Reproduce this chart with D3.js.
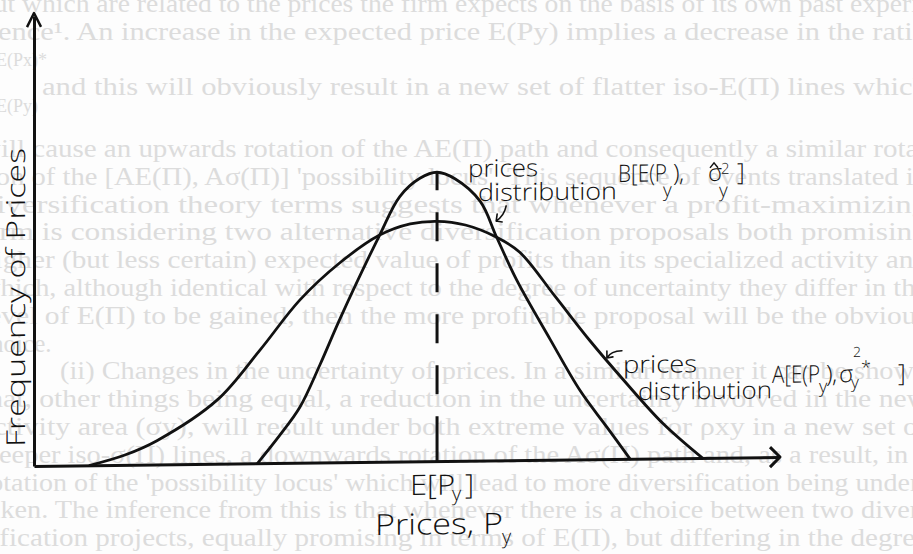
<!DOCTYPE html>
<html>
<head>
<meta charset="utf-8">
<script src="https://cdn.jsdelivr.net/npm/d3@7"></script>
<style>
  body { margin: 0; background: #fff; }
  svg { display: block; }
  .lbl { font-family: "Open Sans", "DejaVu Sans", sans-serif; font-weight: 300; fill: #111; }
  .ghost { font-family: "Liberation Serif", serif; fill: #dcdcdc; font-size: 25px; }
</style>
</head>
<body>
<div id="chart"></div>
<script>
// Distribution B (narrow, tall): prices and frequencies
const bPrice = [3.00, 3.30, 3.57, 3.84, 4.11, 4.64, 4.91, 5.18, 5.41, 5.65, 5.99, 6.21, 6.48, 6.93, 7.33, 7.69, 8.00];
const bFreq  = [0.00, 0.62, 1.24, 2.18, 3.20, 5.04, 5.89, 6.29, 6.42, 6.27, 5.76, 4.96, 4.00, 2.67, 1.53, 0.71, 0.00];

// Distribution A (wide, flatter)
const aPrice = [0.75, 1.22, 1.65, 2.46, 3.03, 3.57, 4.11, 4.64, 5.05, 5.41, 5.79, 6.21, 6.52, 6.99, 7.46, 7.91, 8.44, 8.97];
const aFreq  = [0.00, 0.22, 0.53, 1.42, 2.51, 3.62, 4.44, 5.04, 5.28, 5.33, 5.24, 4.96, 4.62, 3.64, 2.64, 1.76, 0.78, 0.00];

// Expected price E[Py] and the peak it is drawn up to
const meanPrice = 5.41;
const meanPeak = 6.42;

// Show-through text from the scanned page (background)
const ghostLines = [
  [12, "but which are related to the prices the firm expects on the basis of its own past experi-"],
  [40, "ence\u00b9. An increase in the expected price E(Py) implies a decrease in the ratio", -2],
  [95, "and this will obviously result in a new set of flatter iso-E(\u03a0) lines which", 42],
  [157, "will cause an upwards rotation of the AE(\u03a0) path and consequently a similar rota-"],
  [185, "tion of the [AE(\u03a0), A\u03c3(\u03a0)] 'possibility locus'. This sequence of events translated in"],
  [213, "diversification theory terms suggests that whenever a profit-maximizing"],
  [240, "firm is considering two alternative diversification proposals both promising"],
  [268, "higher (but less certain) expected value of profits than its specialized activity and"],
  [296, "which, although identical with respect to the degree of uncertainty they differ in the"],
  [324, "level of E(\u03a0) to be gained, then the more profitable proposal will be the obvious"],
  [352, "choice.", -20, true],
  [379, "(ii) Changes in the uncertainty of prices. In a similar manner it can be shown", 60],
  [407, "that, other things being equal, a reduction in the uncertainty involved in the new"],
  [435, "activity area (\u03c3y), will result under both extreme values for \u03c1xy in a new set of"],
  [463, "steeper iso-\u03c3(\u03a0) lines, a downwards rotation of the A\u03c3(\u03a0) path and, as a result, in a"],
  [491, "rotation of the 'possibility locus' which will lead to more diversification being under-"],
  [518, "taken. The inference from this is that whenever there is a choice between two diver-"],
  [546, "sification projects, equally promising in terms of E(\u03a0), but differing in the degree"]
];

const W = 913, H = 554;

const svg = d3.select("#chart")
  .append("svg")
  .attr("width", W)
  .attr("height", H);

svg.append("rect").attr("width", W).attr("height", H).attr("fill", "#fdfdfd");

// background text
const ghost = svg.append("g");
ghostLines.forEach(([yy, txt, x0, short]) => {
  const left = x0 === undefined ? -20 : x0;
  const t = ghost.append("text")
    .attr("class", "ghost")
    .attr("x", left)
    .attr("y", yy)
    .text(txt);
  if (!short) t.attr("textLength", 928 - left).attr("lengthAdjust", "spacingAndGlyphs");
});
ghost.append("text").attr("class", "ghost").attr("x", -4).attr("y", 66).style("font-size", "18px").text("E(Px)*");
ghost.append("text").attr("class", "ghost").attr("x", -4).attr("y", 112).style("font-size", "18px").text("E(Py)");

// Scales (hand drawing is slightly tilted, hence the skew)
const x = d3.scaleLinear().domain([0, 10]).range([0, 745]);
const y = d3.scaleLinear().domain([0, 10]).range([0, -450]);

const g = svg.append("g").attr("transform", "translate(34,466) skewY(-0.69)");

// Axes without ticks
g.append("g")
  .call(d3.axisBottom(x).tickValues([]).tickSizeOuter(0))
  .call(a => a.select(".domain").attr("stroke", "#111").attr("stroke-width", 3));
g.append("g")
  .call(d3.axisLeft(y).tickValues([]).tickSizeOuter(0))
  .call(a => a.select(".domain").attr("stroke", "#111").attr("stroke-width", 3));

// arrow heads
const xe = x(10) + 1, ye = y(10) - 3;
g.append("path")
  .attr("d", `M${xe - 10},${-10}L${xe},0L${xe - 10},${10}`)
  .attr("fill", "none").attr("stroke", "#111").attr("stroke-width", 3).attr("stroke-linejoin", "round");
g.append("path")
  .attr("d", `M${-7},${ye + 14}L0,${ye}L${7},${ye + 14}`)
  .attr("fill", "none").attr("stroke", "#111").attr("stroke-width", 2.5).attr("stroke-linejoin", "round");

// curves
const line = d3.line()
  .x(d => x(d[0]))
  .y(d => y(d[1]))
  .curve(d3.curveCatmullRom.alpha(0.5));

[[aPrice, aFreq], [bPrice, bFreq]].forEach(([px, fy]) => {
  g.append("path")
    .datum(px.map((p, i) => [p, fy[i]]))
    .attr("d", line)
    .attr("fill", "none")
    .attr("stroke", "#111")
    .attr("stroke-width", 2.8)
    .attr("stroke-linecap", "round");
});

// dashed mean line, drawn from the peak down
g.append("line")
  .attr("x1", x(meanPrice)).attr("x2", x(meanPrice))
  .attr("y1", y(meanPeak)).attr("y2", y(0))
  .attr("stroke", "#111")
  .attr("stroke-width", 3)
  .attr("stroke-dasharray", "18,22,29,22,29,22,29,22,29,22,60");

// text helper: anchor in data units, pieces offset in px
function label(p, f, pieces) {
  const t = g.append("g").attr("transform", `translate(${x(p)},${y(f)})`);
  pieces.forEach(d => {
    const el = t.append("text")
      .attr("class", "lbl")
      .attr("x", d[1]).attr("y", d[2])
      .style("font-size", d[3] + "px")
      .text(d[0]);
    if (d[4]) el.attr("textLength", d[4]).attr("lengthAdjust", "spacingAndGlyphs");
  });
  return t;
}

// B label
label(5.826, 6.306, [["prices", 0, 0, 24, 70]]);
label(5.960, 5.770, [["distribution", 0, 0, 24, 139]]);
const bl = label(7.839, 6.155, [
  ["B[E(P", 0, 0, 24, 49], ["y", 45, 15, 19], [")", 55, 0, 24], [",", 61, 0, 24],
  ["\u03c3", 90, 0, 24], ["2", 103, -7, 15], ["y", 101, 16, 19], ["]", 119, 0, 24]
]);
bl.append("path").attr("d", "M92,-13L96,-18L100,-13")
  .attr("fill", "none").attr("stroke", "#111").attr("stroke-width", 1.5);

// pointer from B label to its curve
const bp = g.append("g").attr("transform", `translate(${x(6.19)},${y(5.32)})`);
bp.append("path").attr("d", "M11,-15Q9,-5 1,0M1,0L2,-7M1,0L7,1")
  .attr("fill", "none").attr("stroke", "#111").attr("stroke-width", 1.6).attr("stroke-linecap", "round");

// A label
label(7.906, 1.909, [["prices", 0, 0, 24, 74]]);
label(8.107, 1.305, [["distribution", 0, 0, 24, 134]]);
label(9.906, 1.647, [
  ["A[E(P", 0, 0, 24, 48], ["y", 47, 10, 18], [")", 54, 0, 24], [",", 60, 0, 24],
  ["\u03c3", 67, 0, 24], ["2", 81, -25, 14], ["y", 79, 6, 17], ["*", 89, -8, 18], ["]", 126, 0, 24]
]);

// pointer from A label to its curve
const ap = g.append("g").attr("transform", `translate(${x(7.69)},${y(2.27)})`);
ap.append("path").attr("d", "M15,-6Q4,-6 0,1M0,1L0,-6M0,1L6,0")
  .attr("fill", "none").attr("stroke", "#111").attr("stroke-width", 1.6).attr("stroke-linecap", "round");

// axis titles
label(5.047, -0.745, [["E[P", 0, 0, 28, 45], ["y", 42, 6, 20], ["]", 55, 0, 28]]);
label(4.577, -1.625, [["Prices, P", 0, 0, 29, 128], ["y", 127, 10, 20]]);

g.append("text")
  .attr("class", "lbl")
  .attr("transform", `translate(${x(-0.121)},${y(0.425)}) rotate(-90)`)
  .attr("textLength", 299)
  .attr("lengthAdjust", "spacingAndGlyphs")
  .style("font-size", "26px")
  .text("Frequency of Prices");
</script>
</body>
</html>
